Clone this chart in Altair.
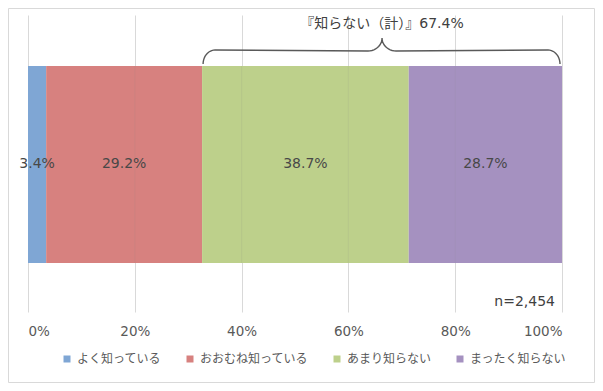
import altair as alt
import pandas as pd
import numpy as np

# ---- data ----
categories = ["よく知っている", "おおむね知っている", "あまり知らない", "まったく知らない"]
values = [3.4, 29.2, 38.7, 28.7]
colors = ["#7FA6D4", "#D7817F", "#BDD08B", "#A591C0"]
x_ticks = [0, 20, 40, 60, 80, 100]
brace_label_prefix = "『知らない（計）』"
n_label = "n=2,454"

W, H = 534, 297
PX = W / 100.0  # pixels per percent

df = pd.DataFrame({"cat": categories, "val": values})
df["end"] = df["val"].cumsum()
df["start"] = df["end"] - df["val"]
df["mid"] = (df["start"] + df["end"]) / 2
df["label"] = df["val"].map(lambda v: f"{v:.1f}%")
df["order"] = range(len(df))

# brace over the two "知らない" categories
b0 = float(df.loc[2, "start"])
b1 = float(df.loc[3, "end"])
bmid = (b0 + b1) / 2
btotal = values[2] + values[3]

# brace shape in pixel offsets (y from plot top)
r_end, ry_end = 12.0, 14.0
r_mid, ry_mid = 14.0, 13.0
y_end, y_peak = 49.0, 23.0
pts = []
x0p, x1p, xmp = b0 * PX + 1, b1 * PX - 2, bmid * PX
for t in np.linspace(np.pi, np.pi / 2, 12):
    pts.append((x0p + r_end + r_end * np.cos(t), y_end - ry_end * np.sin(t)))
for t in np.linspace(-np.pi / 2, 0, 12):
    pts.append((xmp - r_mid + r_mid * np.cos(t), y_peak - ry_mid * np.sin(t)))
for t in np.linspace(np.pi, 1.5 * np.pi, 12):
    pts.append((xmp + r_mid + r_mid * np.cos(t), y_peak - ry_mid * np.sin(t)))
for t in np.linspace(np.pi / 2, 0, 12):
    pts.append((x1p - r_end + r_end * np.cos(t), y_end - ry_end * np.sin(t)))
brace = pd.DataFrame({
    "x": [p[0] / PX for p in pts],
    "y": [p[1] for p in pts],
    "i": range(len(pts)),
})

FONT = "DejaVu Sans, Noto Sans CJK JP"
JFONT = "Noto Sans CJK JP"
TXT = "#404040"

xscale = alt.Scale(domain=[0, 100], nice=False)
yscale = alt.Scale(domain=[H, 0])

bars = alt.Chart(df).mark_bar().encode(
    x=alt.X("start:Q", scale=xscale,
            axis=alt.Axis(values=x_ticks, labelExpr="datum.value + '%'", grid=True,
                          gridColor="#D9D9D9", domain=False, ticks=False,
                          labelFontSize=13.5, labelColor="#595959", labelPadding=12,
                          labelFont=FONT, title=None)),
    x2="end:Q",
    y=alt.value(51),
    y2=alt.value(248),
    color=alt.Color("cat:N", scale=alt.Scale(domain=categories, range=colors),
                    sort=categories,
                    legend=alt.Legend(orient="none", legendX=33, legendY=338,
                                      direction="horizontal", symbolType="square",
                                      symbolSize=49, symbolStrokeWidth=0,
                                      labelFontSize=12, labelFont=JFONT,
                                      labelColor="#595959", columnPadding=22,
                                      symbolOffset=0, labelOffset=4, padding=0,
                                      title=None)),
    order="order:Q",
)

grid_over = alt.Chart(pd.DataFrame({"t": x_ticks[1:-1]})).mark_rule(
    color="#808080", opacity=0.12, strokeWidth=1
).encode(
    x=alt.X("t:Q", scale=xscale),
    y=alt.value(51),
    y2=alt.value(248),
)

labels = alt.Chart(df).mark_text(fontSize=14, font=FONT, color="#484848").encode(
    x=alt.X("mid:Q", scale=xscale),
    y=alt.value(149),
    text="label:N",
)

brace_line = alt.Chart(brace).mark_line(color="#595959", strokeWidth=1.4).encode(
    x=alt.X("x:Q", scale=xscale),
    y=alt.Y("y:Q", scale=yscale, axis=None),
    order="i:Q",
)

brace_text_df = pd.DataFrame({"x": [bmid], "t": [f"{brace_label_prefix}{btotal:.1f}%"]})
brace_text = alt.Chart(brace_text_df).mark_text(fontSize=14, font=FONT, color=TXT).encode(
    x=alt.X("x:Q", scale=xscale),
    y=alt.value(9),
    text="t:N",
)

n_df = pd.DataFrame({"x": [100], "t": [n_label]})
n_text = alt.Chart(n_df).mark_text(fontSize=14, font=FONT, color=TXT, align="right", dx=-7).encode(
    x=alt.X("x:Q", scale=xscale),
    y=alt.value(287),
    text="t:N",
)

border = alt.Chart(pd.DataFrame({"a": [0]})).mark_rect(fill=None, fillOpacity=0, stroke="#D9D9D9", strokeWidth=1).encode(
    x=alt.value(-19.5), x2=alt.value(566.5), y=alt.value(-6.5), y2=alt.value(367.5)
)

chart = alt.layer(border, bars, grid_over, labels, brace_line, brace_text, n_text).properties(
    width=W, height=H,
    padding={"left": 20, "top": 7, "right": 33, "bottom": 71},
    autosize=alt.AutoSizeParams(type="none"),
    background="white",
).configure_view(stroke=None)

chart.save("out.html", embed_options={"renderer": "svg", "actions": False})
